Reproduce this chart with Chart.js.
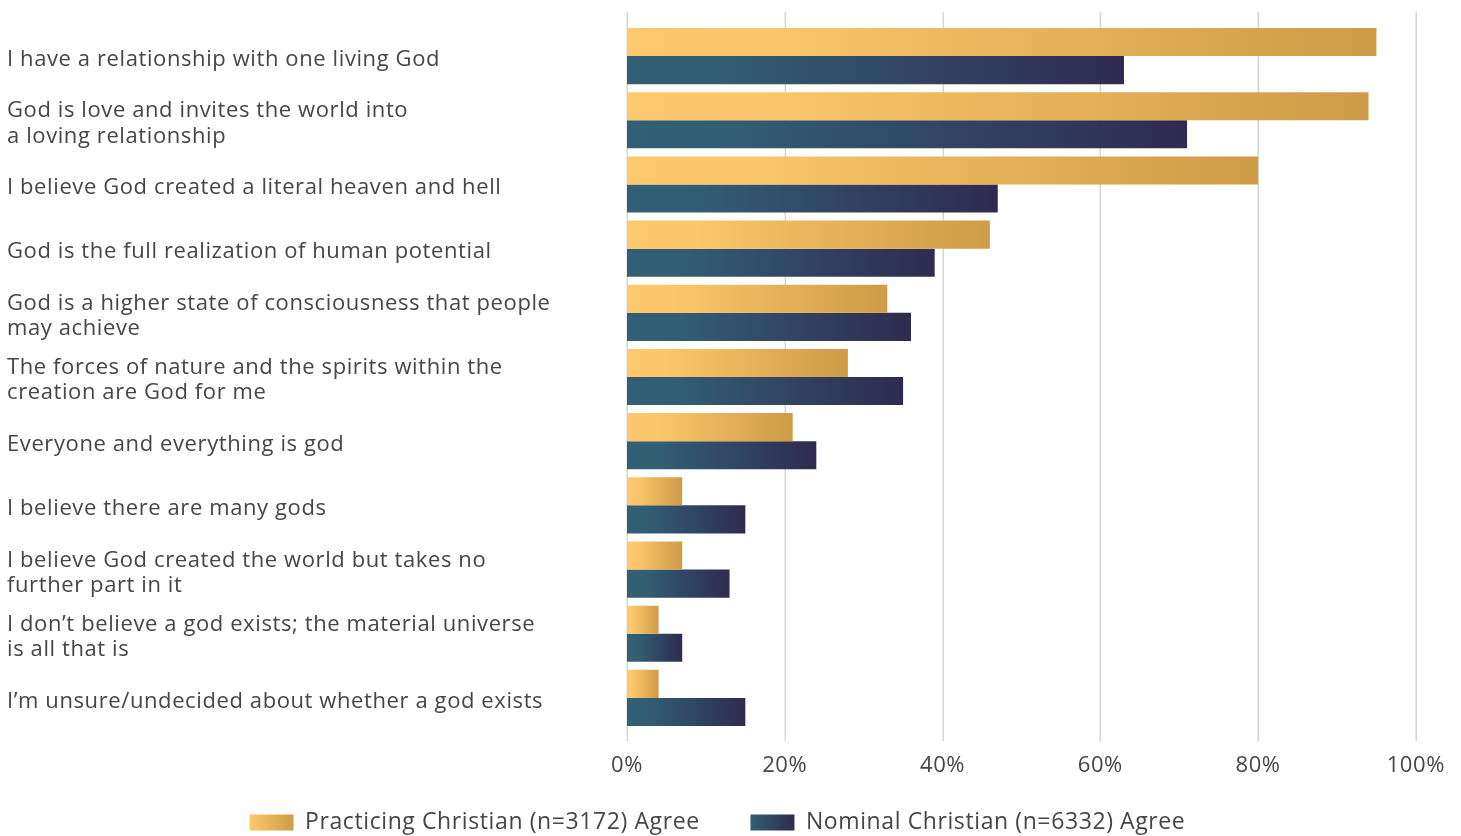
<!DOCTYPE html>
<html>
<head>
<meta charset="utf-8">
<script src="https://cdn.jsdelivr.net/npm/chart.js@4.4.1/dist/chart.umd.min.js"></script>
<style>
  html, body { margin: 0; padding: 0; background: #fff; overflow: hidden; }
  #wrap { width: 1461px; height: 844px; position: relative; }
</style>
</head>
<body>
<div id="wrap"><canvas id="chart"></canvas></div>
<script>
// Beliefs about God — agree share by group
const categories = [
  'I have a relationship with one living God',
  ['God is love and invites the world into', 'a loving relationship'],
  'I believe God created a literal heaven and hell',
  'God is the full realization of human potential',
  ['God is a higher state of consciousness that people', 'may achieve'],
  ['The forces of nature and the spirits within the', 'creation are God for me'],
  'Everyone and everything is god',
  'I believe there are many gods',
  ['I believe God created the world but takes no', 'further part in it'],
  ['I don\u2019t believe a god exists; the material universe', 'is all that is'],
  'I\u2019m unsure/undecided about whether a god exists',
];
const practicing = [95, 94, 80, 46, 33, 28, 21, 7, 7, 4, 4];
const nominal = [63, 71, 47, 39, 36, 35, 24, 15, 13, 7, 15];
const xTicks = [0, 20, 40, 60, 80, 100];
const seriesNames = ['Practicing Christian (n=3172) Agree', 'Nominal Christian (n=6332) Agree'];

const GOLD = ['#FDC96C', '#FBC76A', '#CE9B47'];
const NAVY = ['#335F74', '#325E73', '#2F2B4F'];
const TEXT = '#464646';
const FONT = "'Open Sans', sans-serif";

function barGradient(ctx, x0, x1, stops) {
  const g = ctx.createLinearGradient(x0, 0, Math.max(x1, x0 + 1), 0);
  g.addColorStop(0, stops[0]);
  g.addColorStop(0.18, stops[1]);
  g.addColorStop(1, stops[2]);
  return g;
}

function scriptedFill(stops, values) {
  return (c) => {
    const chart = c.chart;
    const xs = chart.scales && chart.scales.x;
    if (!chart.chartArea || !xs || c.dataIndex == null) return stops[1];
    const x0 = xs.getPixelForValue(0);
    const x1 = xs.getPixelForValue(values[c.dataIndex]);
    return barGradient(chart.ctx, x0, x1, stops);
  };
}

// the original font is wider, so open the letters up a little
const spacing = {
  id: 'spacing',
  beforeUpdate(chart) { chart.ctx.letterSpacing = '0.6px'; },
  beforeDraw(chart) { chart.ctx.letterSpacing = '0.6px'; },
};

// vertical grid lines that run a bit past the plot area, like the original
const gridPlugin = {
  id: 'tallGrid',
  beforeDatasetsDraw(chart) {
    const { ctx, chartArea, scales } = chart;
    ctx.save();
    ctx.strokeStyle = '#D6D6D6';
    ctx.lineWidth = 1.5;
    xTicks.forEach(v => {
      const x = Math.round(scales.x.getPixelForValue(v)) + 0.25;
      ctx.beginPath();
      ctx.moveTo(x, chartArea.top - 12);
      ctx.lineTo(x, chartArea.bottom + 11);
      ctx.stroke();
    });
    ctx.restore();
  },
};

// gradient legend swatches
const legendSwatch = {
  id: 'legendSwatch',
  afterDraw(chart) {
    const lg = chart.legend;
    if (!lg || !lg.legendHitBoxes) return;
    const ctx = chart.ctx;
    lg.legendHitBoxes.forEach((hb, i) => {
      const w = 44, h = 16;
      const y = hb.top + hb.height / 2 - h / 2;
      const g = ctx.createLinearGradient(hb.left, 0, hb.left + w, 0);
      const s = i === 0 ? GOLD : NAVY;
      g.addColorStop(0, s[0]);
      g.addColorStop(1, s[2]);
      ctx.fillStyle = g;
      ctx.fillRect(hb.left, y, w, h);
    });
  },
};

new Chart(document.getElementById('chart'), {
  type: 'bar',
  data: {
    labels: categories,
    datasets: [
      {
        label: seriesNames[0],
        data: practicing,
        backgroundColor: scriptedFill(GOLD, practicing),
        categoryPercentage: 0.875,
        barPercentage: 1,
      },
      {
        label: seriesNames[1],
        data: nominal,
        backgroundColor: scriptedFill(NAVY, nominal),
        categoryPercentage: 0.875,
        barPercentage: 1,
      },
    ],
  },
  options: {
    indexAxis: 'y',
    responsive: true,
    maintainAspectRatio: false,
    animation: false,
    devicePixelRatio: 1,
    layout: { padding: { left: 7, right: 20, top: 24, bottom: 0 } },
    plugins: {
      tooltip: { enabled: false },
      legend: {
        position: 'bottom',
        labels: {
          color: TEXT,
          font: { family: FONT, size: 23 },
          boxWidth: 44,
          boxHeight: 16,
          padding: 31,
          // trailing spaces widen the gap between items and nudge the row left
          generateLabels: (chart) => chart.data.datasets.map((d, i) => ({
            text: d.label + (i === 0 ? '\u00a0\u00a0\u00a0' : '\u00a0\u00a0'),
            fillStyle: 'rgba(0,0,0,0)',
            strokeStyle: 'rgba(0,0,0,0)',
            lineWidth: 0,
            datasetIndex: i,
            fontColor: TEXT,
          })),
        },
      },
    },
    scales: {
      x: {
        min: 0,
        max: 100,
        afterBuildTicks: (axis) => { axis.ticks = xTicks.map(v => ({ value: v })); },
        afterFit: (axis) => { axis.height = 50; },
        grid: { display: false, drawTicks: false },
        border: { display: false },
        ticks: {
          color: TEXT,
          font: { family: FONT, size: 22, lineHeight: 1.8 },
          padding: 16,
          callback: v => v + '%',
        },
      },
      y: {
        grid: { display: false },
        border: { display: false },
        afterFit: (axis) => { axis.width = 620; },
        ticks: {
          crossAlign: 'far',
          labelOffset: 3.5,
          color: TEXT,
          font: { family: FONT, size: 22, lineHeight: 1.14 },
        },
      },
    },
  },
  plugins: [spacing, gridPlugin, legendSwatch],
});
</script>
</body>
</html>
